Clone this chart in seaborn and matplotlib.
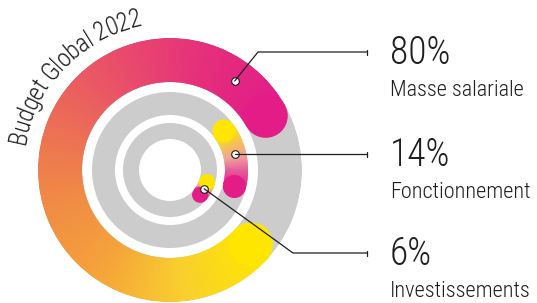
import numpy as np
import matplotlib
matplotlib.use("Agg")
import matplotlib.pyplot as plt
import seaborn as sns
from matplotlib import font_manager
from matplotlib.ft2font import FT2Font

# data
categories = ["Masse salariale", "Fonctionnement", "Investissements"]
shares = [80, 14, 6]
pct_labels = ["80%", "14%", "6%"]
title = "Budget Global 2022"

sns.set_theme(style="white")


def pick_family(names):
    for n in names:
        try:
            font_manager.findfont(font_manager.FontProperties(family=n),
                                  fallback_to_default=False)
            return n
        except ValueError:
            pass
    return "DejaVu Sans"


fam = pick_family(["Roboto Condensed", "Liberation Sans Narrow", "Roboto"])
plt.rcParams["font.family"] = [fam, "DejaVu Sans"]

# layout (pixels)
W, H = 537, 303
cx, cy = 170, 170
r_max = 132
rings = [(88, 132), (55, 78), (31, 47)]
starts = [132.5, 54, 108]
dot_frac = [0.915, 0.44, 0.5]
line_y = [52, 154, 253]
elbows = [(258, 52), None, (293, 253)]
line_end = 367
text_x = 390
txt_col = "#1e1e1e"

outer_stops = ["#ffe600", "#f9cf2e", "#f5a33a", "#f08a45", "#ec6a58",
               "#e94a6c", "#e52e7c", "#e31c87"]
small_stops = ["#ffe600", "#f7c64a", "#f0a39a", "#e8539a", "#e31c87"]

fig = plt.figure(figsize=(W / 100, H / 100), dpi=100)
ax = fig.add_axes([(cx - r_max) / W, (H - cy - r_max) / H,
                   2 * r_max / W, 2 * r_max / H], projection="polar")
ax.set_theta_zero_location("N")
ax.set_theta_direction(-1)
ax.set_ylim(0, r_max)
ax.set_axis_off()

for i, (r_in, r_out) in enumerate(rings):
    w = r_out - r_in
    ax.bar(np.pi, w, width=2 * np.pi, bottom=r_in, color="#cccccc",
           linewidth=0, zorder=1)
    span = shares[i] * 3.6
    n = max(int(span * 2), 40)
    stops = outer_stops if i == 0 else small_stops
    cols = sns.blend_palette(stops, n_colors=n)
    d = np.deg2rad(span) / n
    th = np.deg2rad(starts[i]) + (np.arange(n) + 0.5) * d
    ax.bar(th, w, width=d * 1.8, bottom=r_in, color=cols, linewidth=0,
           zorder=2)
    diam = w * 0.72
    rm = (r_in + r_out) / 2
    ax.scatter(np.deg2rad([starts[i], starts[i] + span]), [rm, rm],
               s=diam ** 2, c=[cols[0], cols[-1]], linewidths=0, zorder=3,
               clip_on=False)
    # leader dot
    a = np.deg2rad(starts[i] + dot_frac[i] * span)
    ax.scatter([a], [rm], s=30, c="white", edgecolors=txt_col,
               linewidths=0.8, zorder=5, clip_on=False)

ov = fig.add_axes([0, 0, 1, 1], facecolor="none")
ov.set_xlim(0, W)
ov.set_ylim(H, 0)
ov.set_axis_off()

for i, (r_in, r_out) in enumerate(rings):
    rm = (r_in + r_out) / 2
    a = np.deg2rad(starts[i] + dot_frac[i] * shares[i] * 3.6)
    dx, dy = cx + rm * np.sin(a), cy - rm * np.cos(a)
    xs, ys = [dx], [dy]
    if elbows[i] is not None:
        xs.append(elbows[i][0])
        ys.append(elbows[i][1])
    else:
        ys[0] = line_y[i]
    xs.append(line_end)
    ys.append(line_y[i])
    ov.plot(xs, ys, color=txt_col, lw=0.9, zorder=4)
    ov.plot([line_end, line_end], [line_y[i] - 2.5, line_y[i] + 2.5],
            color=txt_col, lw=0.9)
    base = line_y[i] + 12
    ov.text(text_x, base, pct_labels[i], fontsize=27, weight="light",
            color=txt_col, va="baseline", ha="left")
    ov.text(text_x, base + 32, categories[i], fontsize=16, weight="light",
            color=txt_col, va="baseline", ha="left")

# curved title
t_size = 18
fp = font_manager.FontProperties(family=fam, weight="light")
ft = FT2Font(font_manager.findfont(fp))
ft.set_size(t_size, 100)
adv = []
for ch in title:
    g = ft.load_char(ord(ch))
    adv.append(g.linearHoriAdvance / 65536 * 0.93)
R = 147
total = sum(adv)
a0 = 314.5 - np.rad2deg(total / R) / 2
pos = 0
for ch, w_ch in zip(title, adv):
    ang = a0 + np.rad2deg((pos + w_ch / 2) / R)
    pos += w_ch
    ar = np.deg2rad(ang)
    ov.text(cx + R * np.sin(ar), cy - R * np.cos(ar), ch, fontsize=t_size,
            weight="light", color=txt_col, rotation=-ang % 360,
            rotation_mode="anchor", ha="center", va="baseline")

fig.savefig("out.png", dpi=100)
